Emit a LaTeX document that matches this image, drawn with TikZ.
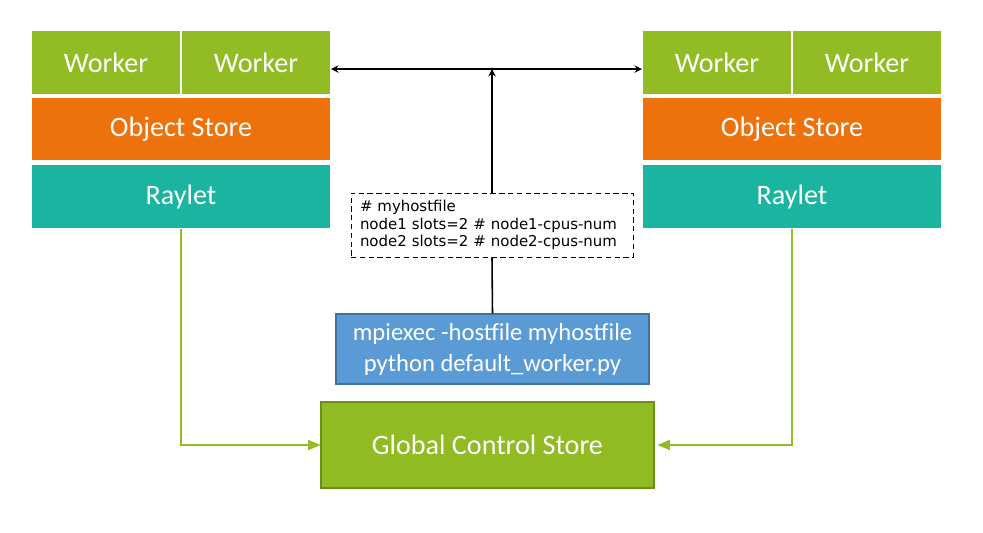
\documentclass[tikz,border=0pt]{standalone}
\usepackage{fontspec}
\setmainfont{Carlito}
\newfontfamily\hostfont{DejaVu Sans}
\usepackage{xcolor}
\usetikzlibrary{positioning,shapes,arrows}
\definecolor{workergreen}{RGB}{146,188,36}
\definecolor{storeorange}{RGB}{238,114,12}
\definecolor{rayletteal}{RGB}{27,180,160}
\definecolor{mpiblue}{RGB}{91,155,213}
\definecolor{mpiborder}{RGB}{65,113,156}
\definecolor{gcsgreen}{RGB}{144,187,35}
\definecolor{gcsborder}{RGB}{108,142,26}
\tikzstyle{worker} = [rectangle, minimum width=3cm, minimum height=1.3cm, inner sep=0pt, outer sep=0pt, text centered, draw=white, line width=0.6pt, fill=workergreen, text=white, font=\fontsize{16}{19}\selectfont]
\tikzstyle{store} = [worker, minimum width=6cm, minimum height=1.28cm, fill=storeorange]
\tikzstyle{raylet} = [worker, minimum width=6cm, minimum height=1.3cm, fill=rayletteal]
\tikzstyle{hostfile} = [rectangle, draw=black, densely dashed, line width=0.5pt, fill=white, minimum width=5.64cm, minimum height=1.28cm, text width=5.28cm, inner xsep=0.18cm, align=left, font=\hostfont\fontsize{8.5}{10}\selectfont]
\tikzstyle{mpi} = [rectangle, draw=mpiborder, line width=0.6pt, fill=mpiblue, minimum width=6.26cm, minimum height=1.4cm, align=center, text=white, font=\fontsize{14}{17.6}\selectfont]
\tikzstyle{gcs} = [rectangle, draw=gcsborder, line width=0.6pt, fill=gcsgreen, minimum width=6.66cm, minimum height=1.72cm, text centered, text=white, font=\fontsize{16}{19}\selectfont]
\tikzstyle{arrow} = [line width=0.9pt,->,>=stealth]
\tikzstyle{gline} = [draw=workergreen, line width=0.6pt,->,>=triangle 45]

\begin{document}
\begin{tikzpicture}
          \useasboundingbox (0,0) rectangle (19.66,-10.64);
          % left node
          \node (lw1) [worker] at (2.12,-1.25) {Worker};
          \node (lw2) [worker, right=0cm of lw1] {Worker};
          \node (los) [store, below=0.04cm of lw1.south east] {Object Store};
          \node (lray) [raylet, below=0.06cm of los.south] {Raylet};
          % right node
          \node (rw1) [worker] at (14.34,-1.25) {Worker};
          \node (rw2) [worker, right=0cm of rw1] {Worker};
          \node (ros) [store, below=0.04cm of rw1.south east] {Object Store};
          \node (rray) [raylet, below=0.06cm of ros.south] {Raylet};
          % launcher
          \node (hosts) [hostfile] at (9.84,-4.5) {\# myhostfile\\node1 slots=2 \# node1-cpus-num\\node2 slots=2 \# node2-cpus-num};
          \node (mpi) [mpi] at (9.85,-6.98) {mpiexec -hostfile myhostfile\\python default\_worker.py};
          \node (gcs) [gcs] at (9.75,-8.9) {Global Control Store};
          \coordinate (top) at (9.84,-1.38);
          \draw [line width=0.9pt] (mpi.north) -- (hosts.south);
          \draw [arrow] (hosts.north) -- (top);
          \draw [arrow] (top) -- (lw2.east |- top);
          \draw [arrow] (top) -- (rw1.west |- top);
          \draw [gline] (lray.south) |- (gcs.west);
          \draw [gline, shorten >=0.06cm] (rray.south) |- (gcs.east);
        \end{tikzpicture}
\end{document}
